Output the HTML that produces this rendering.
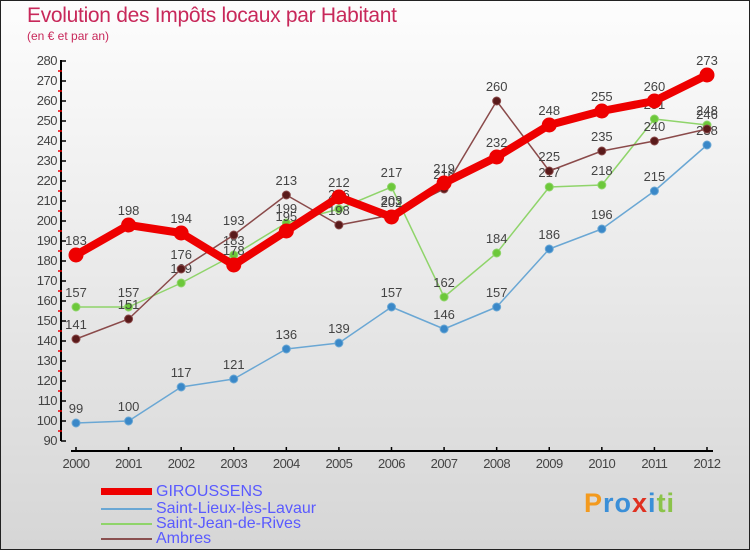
<!DOCTYPE html>
<html><head><meta charset="utf-8"><style>
body{margin:0}
#c{width:750px;height:550px;position:relative;background:linear-gradient(#fdfdfd,#d6d6d6);box-sizing:border-box;border:1px solid #222;font-family:"Liberation Sans",sans-serif;overflow:hidden}
.t{position:absolute;left:26px;top:3px;font-size:21px;color:#c8285a;letter-spacing:-0.3px}
.s{position:absolute;left:26px;top:28px;font-size:12px;color:#c8285a}
.lg{position:absolute;left:155px;font-size:16px;color:#5a5aff;line-height:16px}
.ll{position:absolute;left:100px;width:51px}
</style></head><body>
<div id="c">
<div class="t">Evolution des Impôts locaux par Habitant</div>
<div class="s">(en € et par an)</div>
<svg id="svg" width="750" height="550" style="position:absolute;left:0;top:0"></svg>
<div class="ll" style="top:487px;height:7px;background:#e00"></div>
<div class="lg" style="top:483px">GIROUSSENS</div>
<div class="ll" style="top:507px;height:2px;background:#6aa7d4"></div>
<div class="lg" style="top:500px">Saint-Lieux-lès-Lavaur</div>
<div class="ll" style="top:522px;height:2px;background:#8fd46a"></div>
<div class="lg" style="top:515px">Saint-Jean-de-Rives</div>
<div class="ll" style="top:537px;height:2px;background:#8a5050"></div>
<div class="lg" style="top:530px">Ambres</div>
<div style="position:absolute;left:583px;top:487px;font-size:27px;font-weight:bold;letter-spacing:1px"><span style="color:#f39a1e">P</span><span style="color:#3a8fd8">ro</span><span style="color:#e03020">x</span><span style="color:#3a8fd8">i</span><span style="color:#8bc34a">ti</span></div>
</div>
<script>
const years=[2000,2001,2002,2003,2004,2005,2006,2007,2008,2009,2010,2011,2012];
const giroussens=[183,198,194,178,195,212,202,219,232,248,255,260,273];
const saintLieux=[99,100,117,121,136,139,157,146,157,186,196,215,238];
const saintJean=[157,157,169,183,199,206,217,162,184,217,218,251,248];
const ambres=[141,151,176,193,213,198,203,216,260,225,235,240,246];
const yTicks=[90,100,110,120,130,140,150,160,170,180,190,200,210,220,230,240,250,260,270,280];
const NS='http://www.w3.org/2000/svg';
const svg=document.getElementById('svg');
const x=i=>75+i*(706-75)/(years.length-1);
const y=v=>440-(v-90)*2;
function el(t,a){const e=document.createElementNS(NS,t);for(const k in a)e.setAttribute(k,a[k]);svg.appendChild(e);return e;}
let e=el('line',{x1:60,y1:59,x2:60,y2:440,stroke:'#000','stroke-width':2});


e=el('line',{x1:70,y1:450,x2:712,y2:450,stroke:'#000','stroke-width':2});


yTicks.forEach((v,i)=>{
 el('line',{x1:60,y1:y(v),x2:65,y2:y(v),stroke:'#000','stroke-width':1.5});
 if(i<yTicks.length-1)el('line',{x1:57,y1:y(v+5),x2:61,y2:y(v+5),stroke:'#e00','stroke-width':1.5});
 const t=el('text',{x:56,y:y(v)+4,'text-anchor':'end','font-size':13,fill:'#444','letter-spacing':'-0.5'});t.textContent=v;
 
 
});
years.forEach((yr,i)=>{
 el('line',{x1:x(i),y1:446,x2:x(i),y2:450,stroke:'#000','stroke-width':1.5});
 const t=el('text',{x:x(i),y:467,'text-anchor':'middle','font-size':13,fill:'#444','letter-spacing':'-0.5'});t.textContent=yr;
 
 
});
function series(d,col,dot,w,r,name){
 const p=el('polyline',{points:d.map((v,i)=>x(i)+','+y(v)).join(' '),fill:'none',stroke:col,'stroke-width':w,'stroke-linejoin':'round'});
 
 
 d.forEach((v,i)=>{
  const c=el('circle',{cx:x(i),cy:y(v),r:r,fill:dot,stroke:col,'stroke-width':1});
  
  
  const t=el('text',{x:x(i),y:y(v)-10,'text-anchor':'middle','font-size':13,fill:'#444'});t.textContent=v;
  
  
 });
}
series(saintLieux,'#6aa7d4','#3a88c8',1.5,4,'saint-lieux');
series(saintJean,'#8fd46a','#6cc83a',1.5,4,'saint-jean');
series(ambres,'#8a4a4a','#5a1a1a',1.5,4,'ambres');
series(giroussens,'#ee0000','#ee0000',8,7,'giroussens');
</script>
</body></html>
